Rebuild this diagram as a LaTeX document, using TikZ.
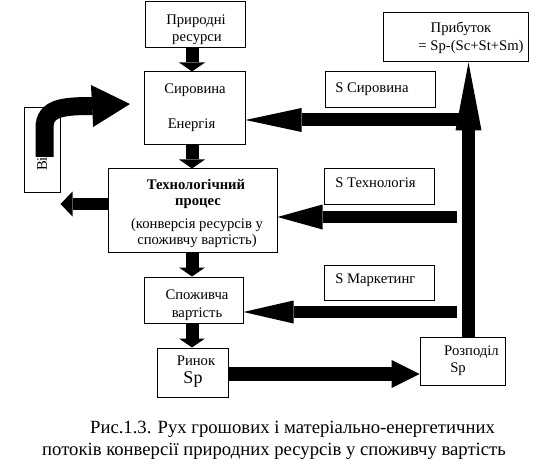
\documentclass[tikz,border=0pt]{standalone}
\usepackage{fontspec}
\setmainfont{Liberation Serif}
\usetikzlibrary{arrows.meta}
\tikzset{
  box/.style={draw,line width=0.75pt,inner sep=0pt},
  sz/.style 2 args={minimum width=#1*0.75pt,minimum height=#2*0.75pt},
  txt/.style={inner sep=0pt,anchor=base,font=\fontsize{11}{13}\selectfont},
  ltxt/.style={inner sep=0pt,anchor=base west,font=\fontsize{11}{13}\selectfont},
  btxt/.style={txt,font=\fontsize{11}{13}\selectfont\bfseries},
  captxt/.style={inner sep=0pt,anchor=base,font=\fontsize{14}{17}\selectfont},
  blk/.style n args={3}{line width=#1,-{Triangle[width=#2,length=#3,line width=0pt]}}
}
\begin{document}
\begin{tikzpicture}[x=0.75pt,y=-0.75pt]
\useasboundingbox (0,0) rectangle (541,470);

% boxes
\node[box,sz={100}{46}] (nat) at (195,25) {};
\node[box,sz={101}{73}] (syr) at (194.5,108.5) {};
\node[box,sz={169}{83}] (tech) at (192.5,210.5) {};
\node[box,sz={99}{46}] (spoz) at (193.5,300) {};
\node[box,sz={71}{49}] (ryn) at (192.5,372.5) {};
\node[box,sz={85}{48}] (rozp) at (462.5,361) {};
\node[box,sz={145}{49}] (prib) at (455.5,37.5) {};
\node[box,sz={110}{36}] (ssyr) at (380,90) {};
\node[box,sz={110}{35}] (stech) at (379,186.5) {};
\node[box,sz={110}{35}] (smark) at (379,282.5) {};
\node[box,sz={36}{84}] (vi) at (42,150) {};

% texts
\node[txt] (nat1) at (196,25) {Природні};
\node[txt] (nat2) at (197,42) {ресурси};
\node[txt] (syr1) at (195,94) {Сировина};
\node[txt] (syr2) at (191.5,129) {Енергія};
\node[btxt] (tech1) at (196,189) {Технологічний};
\node[btxt] (tech2) at (198,205) {процес};
\node[txt] (tech3) at (197,228) {(конверсія ресурсів у};
\node[txt] (tech4) at (197,244) {споживчу вартість)};
\node[txt] (spoz1) at (197,299) {Споживча};
\node[txt] (spoz2) at (197,317) {вартість};
\node[txt] (ryn1) at (196,365) {Ринок};
\node[txt,font=\fontsize{13.5}{15}\selectfont] (ryn2) at (193,383) {Sp};
\node[txt] (rozp1) at (471.5,355) {Розподіл};
\node[txt] (rozp2) at (458,372) {Sp};
\node[txt] (prib1) at (461,33) {Прибуток};
\node[txt] (prib2) at (471,51) {= Sp-(Sc+St+Sm)};
\node[ltxt] (ssyrt) at (335,93) {S Сировина};
\node[ltxt] (stecht) at (335,187) {S Технологія};
\node[ltxt] (smarkt) at (335,283) {S Маркетинг};
\node[txt,anchor=center,rotate=90] (vit) at (42,164) {Ві};
\node[captxt] (cap1) at (292.5,433) {Рис.1.3. Рух грошових і матеріально-енергетичних};
\node[captxt] (cap2) at (274,455) {потоків конверсії природних ресурсів у споживчу вартість};

% helper coordinates
\coordinate (ax) at (192,0);
\coordinate (vx) at (468.5,0);
\coordinate (h1) at (468.5,120);
\coordinate (h2) at (457,217);
\coordinate (h3) at (457,312);
\coordinate (h4) at (0,374);
\coordinate (h5) at (0,204);
\coordinate (c1) at (44.5,157);
\coordinate (c2) at (44.5,128);
\coordinate (c3) at (44.5,108);
\coordinate (c4) at (62,106);
\coordinate (c5) at (92,106);
\coordinate (c6) at (130,104);

% down arrows
\draw[blk={9.75pt}{19.5pt}{6.75pt}] (nat.south -| ax) -- (syr.north -| ax);
\draw[blk={9.75pt}{19.5pt}{6.75pt}] (syr.south -| ax) -- (tech.north -| ax);
\draw[blk={9.75pt}{19.5pt}{6.75pt}] (tech.south -| ax) -- (spoz.north -| ax);
\draw[blk={9.75pt}{19.5pt}{6.75pt}] (spoz.south -| ax) -- (ryn.north -| ax);

% money flows
\draw[blk={9.75pt}{18pt}{42pt}] (h1) -- (syr.east |- h1);
\draw[blk={9pt}{18.75pt}{33.75pt}] (h2) -- (tech.east |- h2);
\draw[blk={8.6pt}{17.25pt}{37.5pt}] (h3) -- (spoz.east |- h3);
\draw[blk={10.5pt}{21pt}{21pt}] (ryn.east |- h4) -- (rozp.west |- h4);
\draw[blk={9.75pt}{19.5pt}{51pt}] (rozp.north -| vx) -- (prib.south -| vx);

% waste arrows
\draw[blk={9pt}{18.75pt}{9pt}] (tech.west |- h5) -- (vi.east |- h5);
\draw[blk={13.5pt}{31.5pt}{28.5pt}] (c1) -- (c2) .. controls (c3) and (c4) .. (c5) -- (c6);
\end{tikzpicture}
\end{document}
